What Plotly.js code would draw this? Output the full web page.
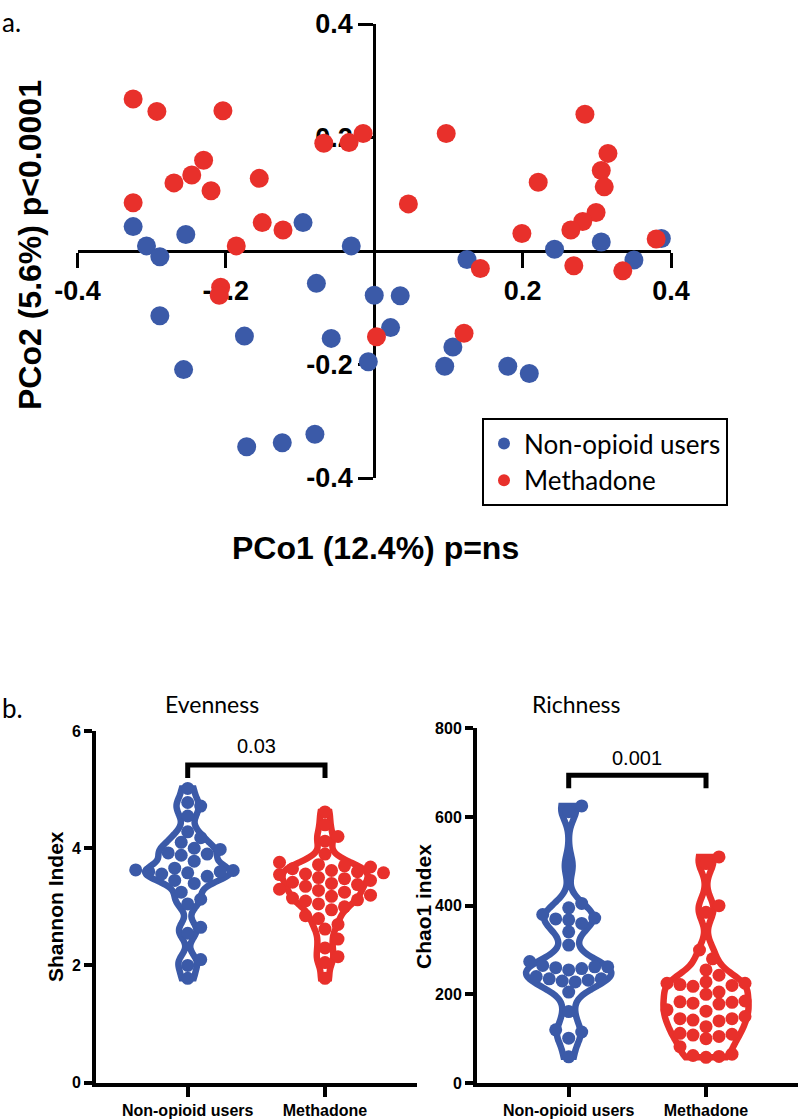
<!DOCTYPE html>
<html><head><meta charset="utf-8">
<script src="https://cdn.plot.ly/plotly-3.0.1.min.js"></script>
<style>html,body{margin:0;padding:0;background:#fff}</style>
</head><body><div id="chart" style="width:800px;height:1119px"></div>
<script>
// ---------- data ----------
const groups = ['Non-opioid users', 'Methadone'];

const pco1_nonopioid = [-0.325,-0.307,-0.289,-0.254,-0.096,-0.031,0.125,0.243,0.306,0.350,0.387,0.000,0.035,-0.078,-0.289,-0.175,-0.058,0.022,-0.008,-0.257,-0.172,-0.124,-0.080,0.106,0.095,0.180,0.209];
const pco2_nonopioid = [0.043,0.009,-0.010,0.029,0.050,0.009,-0.015,0.003,0.016,-0.016,0.022,-0.078,-0.079,-0.057,-0.114,-0.150,-0.154,-0.135,-0.195,-0.209,-0.345,-0.338,-0.323,-0.169,-0.203,-0.203,-0.216];

const pco1_methadone = [-0.325,-0.293,-0.204,-0.230,-0.246,-0.270,-0.220,-0.325,-0.155,-0.151,-0.123,-0.186,-0.068,-0.034,-0.015,0.046,0.097,0.284,0.315,0.306,0.310,0.221,0.299,0.281,0.265,0.199,0.380,0.143,0.269,0.335,-0.207,-0.209,0.003,0.121];
const pco2_methadone = [0.268,0.246,0.247,0.160,0.134,0.120,0.106,0.085,0.128,0.050,0.037,0.009,0.190,0.191,0.207,0.083,0.207,0.241,0.172,0.142,0.113,0.121,0.068,0.052,0.037,0.031,0.021,-0.031,-0.026,-0.035,-0.064,-0.078,-0.151,-0.145];

const shannon_nonopioid = [5.02,4.78,4.72,4.55,4.28,4.18,4.1,4.0,3.98,3.92,3.9,3.88,3.78,3.66,3.63,3.62,3.6,3.6,3.58,3.56,3.52,3.45,3.4,3.25,3.13,3.05,2.65,2.55,2.1,2.0,1.78];
const shannon_methadone = [4.62,4.4,4.2,4.12,3.9,3.76,3.72,3.7,3.68,3.65,3.62,3.6,3.58,3.56,3.55,3.5,3.48,3.45,3.42,3.4,3.38,3.35,3.3,3.28,3.25,3.2,3.18,3.15,3.12,3.1,3.05,3.0,2.95,2.85,2.8,2.7,2.62,2.45,2.3,2.15,2.05,1.78];

const chao1_nonopioid = [625,612,490,405,395,380,372,370,368,360,341,311,274,265,262,260,258,262,255,240,235,232,235,230,228,205,161,120,115,101,59];
const chao1_methadone = [510,495,400,385,300,280,255,243,228,225,222,220,225,218,205,200,185,183,180,182,178,165,162,150,145,142,140,145,127,110,108,105,112,100,82,65,62,60,58];

const pcoTicks = [-0.4,-0.2,0.2,0.4];
const shannonTicks = [0,2,4,6];
const chaoTicks = [0,200,400,600,800];
const pValues = ['0.03','0.001'];
const shannonBracket = [5.2, 5.42];
const chaoBracket = [665, 694];

// ---------- style ----------
const BLUE = '#3b5aa8';
const RED = '#e8302b';
const W = 800, H = 1119;
const px = v => v / W;
const py = v => 1 - v / H;
const BOLD = {family: 'Liberation Sans, Arial, sans-serif', weight: 'bold', color: '#000'};
const MYRIAD = 'Lato, Open Sans, sans-serif';

const xdomA = [px(77.5), px(671)];
const ydomA = [py(478), py(24)];
const xdomB = [px(96), px(417)];
const ydomB = [py(1082.7), py(731)];
const xdomC = [px(477), px(798)];
const ydomC = [py(1083), py(728.3)];
const catRange = [-0.668, 1.67];
const DOT = 13;

// beeswarm offsets (in x data units) computed from the values and the axis scales
function swarmX(vals, center, dom, yRange) {
  const pxPerY = (dom[1] - dom[0]) * H / (yRange[1] - yRange[0]);
  const pxPerX = (xdomB[1] - xdomB[0]) * W / (catRange[1] - catRange[0]);
  const order = vals.map((v, i) => i).sort((a, b) => vals[a] - vals[b]);
  const placed = [];
  const xs = new Array(vals.length);
  const minD = DOT * 0.92;
  for (const i of order) {
    const yp = vals[i] * pxPerY;
    let chosen = 0;
    for (let k = 0; k < 60; k++) {
      const cands = k === 0 ? [0] : [k * DOT * 0.5, -k * DOT * 0.5];
      let ok = null;
      for (const c of cands) {
        if (placed.every(p => Math.hypot(p.x - c, p.y - yp) >= minD)) { ok = c; break; }
      }
      if (ok !== null) { chosen = ok; break; }
    }
    placed.push({x: chosen, y: yp});
    xs[i] = center + chosen / pxPerX;
  }
  return xs;
}

function violin(vals, pos, color, xa, ya, bw) {
  return {
    type: 'violin', x0: pos, y: vals, xaxis: xa, yaxis: ya,
    points: false, line: {color: color, width: 6.5}, fillcolor: 'rgba(255,255,255,0)',
    bandwidth: bw, spanmode: 'hard', scalemode: 'width', width: 0.62,
    showlegend: false, hoverinfo: 'skip'
  };
}
function dots(vals, pos, color, xa, ya, dom, yr) {
  return {
    type: 'scatter', mode: 'markers', x: swarmX(vals, pos, dom, yr), y: vals, xaxis: xa, yaxis: ya,
    marker: {color: color, size: DOT}, showlegend: false, hoverinfo: 'y'
  };
}

const traces = [
  {type: 'scatter', mode: 'markers', name: groups[0], x: pco1_nonopioid, y: pco2_nonopioid,
   marker: {color: BLUE, size: 19}, xaxis: 'x', yaxis: 'y'},
  {type: 'scatter', mode: 'markers', name: groups[1], x: pco1_methadone, y: pco2_methadone,
   marker: {color: RED, size: 19}, xaxis: 'x', yaxis: 'y'},
  violin(shannon_nonopioid, 0, BLUE, 'x2', 'y2', 0.13),
  violin(shannon_methadone, 1, RED, 'x2', 'y2', 0.13),
  dots(shannon_nonopioid, 0, BLUE, 'x2', 'y2', ydomB, [0, 6]),
  dots(shannon_methadone, 1, RED, 'x2', 'y2', ydomB, [0, 6]),
  violin(chao1_nonopioid, 0, BLUE, 'x3', 'y3', 24),
  violin(chao1_methadone, 1, RED, 'x3', 'y3', 24),
  dots(chao1_nonopioid, 0, BLUE, 'x3', 'y3', ydomC, [0, 800]),
  dots(chao1_methadone, 1, RED, 'x3', 'y3', ydomC, [0, 800])
];

const catAxis = (dom, anchor) => ({
  domain: dom, anchor: anchor, range: catRange, tickvals: [0, 1], ticktext: groups,
  showline: true, linewidth: 4, linecolor: '#000',
  ticks: 'outside', ticklen: 10, tickwidth: 4, tickcolor: '#000',
  tickfont: Object.assign({size: 16}, BOLD), showgrid: false, zeroline: false, fixedrange: true
});
const valAxis = (dom, anchor, range, ticks) => ({
  domain: dom, anchor: anchor, range: range, tickvals: ticks, showline: true, linewidth: 4, linecolor: '#000',
  ticks: 'outside', ticklen: 8, tickwidth: 4, tickcolor: '#000',
  tickfont: Object.assign({size: 16}, BOLD), showgrid: false, zeroline: false, fixedrange: true
});

const layout = {
  width: W, height: H, margin: {l: 0, r: 0, t: 0, b: 0},
  paper_bgcolor: '#fff', plot_bgcolor: 'rgba(0,0,0,0)',
  showlegend: true,
  legend: {x: px(728), xanchor: 'right', y: py(506), yanchor: 'bottom',
    bordercolor: '#000', borderwidth: 2, bgcolor: '#fff',
    font: {family: MYRIAD, size: 26, color: '#000'}, itemsizing: 'constant', tracegroupgap: 0},
  xaxis: {domain: xdomA, range: [-0.4, 0.4], anchor: 'free', position: (ydomA[0] + ydomA[1]) / 2,
    tickvals: pcoTicks, ticktext: pcoTicks.map(String), showline: true, linewidth: 3, linecolor: '#000',
    ticks: 'outside', ticklen: 15, tickwidth: 3, tickcolor: '#000', layer: 'below traces',
    tickfont: Object.assign({size: 27}, BOLD), showgrid: false, zeroline: false, fixedrange: true},
  yaxis: {domain: ydomA, range: [-0.4, 0.4], anchor: 'free', position: (xdomA[0] + xdomA[1]) / 2,
    tickvals: pcoTicks, ticktext: pcoTicks.map(String), showline: true, linewidth: 3, linecolor: '#000',
    ticks: 'outside', ticklen: 15, tickwidth: 3, tickcolor: '#000', layer: 'below traces',
    tickfont: Object.assign({size: 27}, BOLD), showgrid: false, zeroline: false, fixedrange: true},
  xaxis2: catAxis(xdomB, 'y2'),
  yaxis2: valAxis(ydomB, 'x2', [0, 6], shannonTicks),
  xaxis3: catAxis(xdomC, 'y3'),
  yaxis3: valAxis(ydomC, 'x3', [0, 800], chaoTicks),
  shapes: [
    {type: 'path', xref: 'x2', yref: 'y2',
     path: `M 0,${shannonBracket[0]} L 0,${shannonBracket[1]} L 1,${shannonBracket[1]} L 1,${shannonBracket[0]}`,
     line: {color: '#000', width: 5}},
    {type: 'path', xref: 'x3', yref: 'y3',
     path: `M 0,${chaoBracket[0]} L 0,${chaoBracket[1]} L 1,${chaoBracket[1]} L 1,${chaoBracket[0]}`,
     line: {color: '#000', width: 5}}
  ],
  annotations: [
    {text: 'a.', xref: 'paper', yref: 'paper', x: px(0), y: py(22), xanchor: 'left', yanchor: 'middle',
     showarrow: false, font: {family: MYRIAD, size: 26, color: '#000'}},
    {text: 'b.', xref: 'paper', yref: 'paper', x: px(0), y: py(708), xanchor: 'left', yanchor: 'middle',
     showarrow: false, font: {family: MYRIAD, size: 26, color: '#000'}},
    {text: 'PCo1 (12.4%) p=ns', xref: 'paper', yref: 'paper', x: px(375), y: py(548), xanchor: 'center', yanchor: 'middle',
     showarrow: false, font: Object.assign({size: 32}, BOLD)},
    {text: 'PCo2 (5.6%) p<0.0001', xref: 'paper', yref: 'paper', x: px(30), y: py(245), xanchor: 'center', yanchor: 'middle',
     textangle: -90, showarrow: false, font: Object.assign({size: 32}, BOLD)},
    {text: 'Evenness', xref: 'paper', yref: 'paper', x: px(212), y: py(704), xanchor: 'center', yanchor: 'middle',
     showarrow: false, font: {family: MYRIAD, size: 23, color: '#000'}},
    {text: 'Richness', xref: 'paper', yref: 'paper', x: px(576), y: py(704), xanchor: 'center', yanchor: 'middle',
     showarrow: false, font: {family: MYRIAD, size: 23, color: '#000'}},
    {text: 'Shannon Index', xref: 'paper', yref: 'paper', x: px(55), y: py(907), xanchor: 'center', yanchor: 'middle',
     textangle: -90, showarrow: false, font: Object.assign({size: 21}, BOLD)},
    {text: 'Chao1 index', xref: 'paper', yref: 'paper', x: px(423), y: py(907), xanchor: 'center', yanchor: 'middle',
     textangle: -90, showarrow: false, font: Object.assign({size: 21}, BOLD)},
    {text: pValues[0], xref: 'x2', yref: 'y2', x: 0.5, y: 5.745, xanchor: 'center', yanchor: 'middle',
     showarrow: false, font: {family: 'Liberation Sans Narrow, Liberation Sans, Arial, sans-serif', size: 20, color: '#000'}},
    {text: pValues[1], xref: 'x3', yref: 'y3', x: 0.5, y: 733, xanchor: 'center', yanchor: 'middle',
     showarrow: false, font: {family: 'Liberation Sans Narrow, Liberation Sans, Arial, sans-serif', size: 20, color: '#000'}}
  ]
};

Plotly.newPlot('chart', traces, layout, {displayModeBar: false, staticPlot: true});
</script>
</body></html>
